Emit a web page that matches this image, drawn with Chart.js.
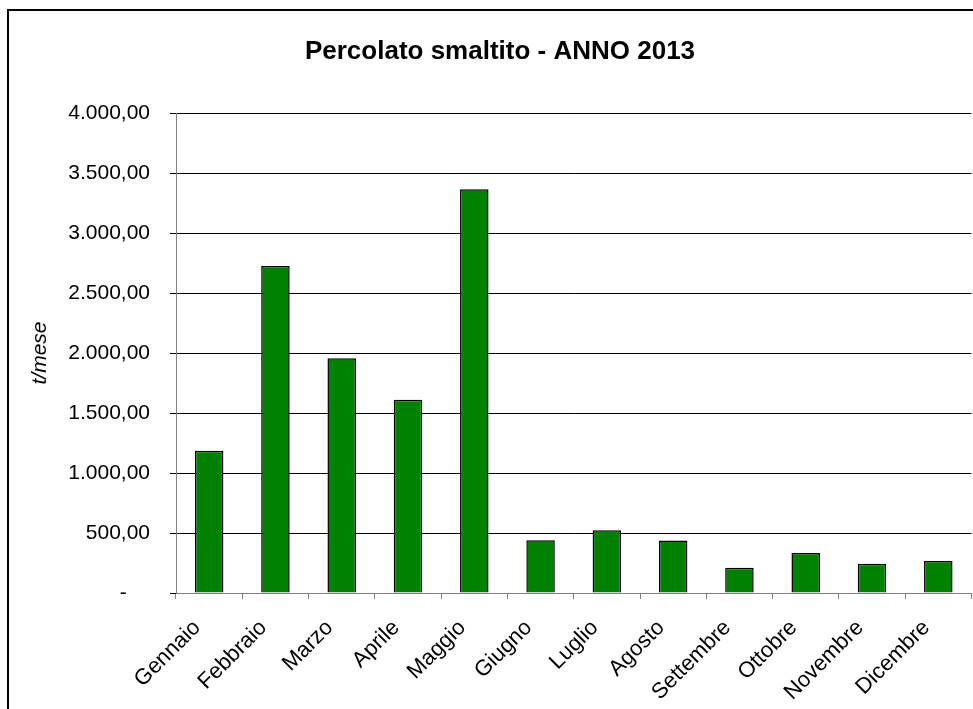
<!DOCTYPE html>
<html>
<head>
<meta charset="utf-8">
<script src="https://cdn.jsdelivr.net/npm/chart.js@4/dist/chart.umd.min.js"></script>
<style>
  html, body { margin: 0; padding: 0; background: #fff; overflow: hidden; }
  #wrap { position: relative; width: 973px; height: 709px; }
</style>
</head>
<body>
<div id="wrap"><canvas id="c" width="973" height="709"></canvas></div>
<script>
// Monthly leachate disposed, 2013 (t/mese)
const months = ['Gennaio', 'Febbraio', 'Marzo', 'Aprile', 'Maggio', 'Giugno',
                'Luglio', 'Agosto', 'Settembre', 'Ottobre', 'Novembre', 'Dicembre'];
const tonnesPerMonth = [1186, 2725, 1956, 1611, 3364, 439, 522, 437, 211, 333, 244, 267];
const yTicks = [0, 500, 1000, 1500, 2000, 2500, 3000, 3500, 4000];

const FONT = "'Liberation Sans', Arial, sans-serif";

// Italian number format with two decimals; zero shown as a dash
function fmtIt(v) {
  if (v === 0) return '-    ';
  const parts = v.toFixed(2).split('.');
  const intPart = parts[0].replace(/\B(?=(\d{3})+(?!\d))/g, '.');
  return intPart + ',' + parts[1];
}

// Outer frame of the chart object
const framePlugin = {
  id: 'frame',
  afterDraw(chart) {
    const ctx = chart.ctx;
    ctx.save();
    ctx.strokeStyle = '#000';
    ctx.lineWidth = 2;
    ctx.strokeRect(8, 10, 2000, 2000);
    ctx.restore();
  }
};

new Chart(document.getElementById('c'), {
  type: 'bar',
  data: {
    labels: months,
    datasets: [{
      data: tonnesPerMonth,
      backgroundColor: '#008000',
      borderColor: '#000',
      borderWidth: 1.5,
      barPercentage: 0.43,
      categoryPercentage: 1.0
    }]
  },
  options: {
    responsive: false,
    animation: false,
    layout: { padding: { left: 28, right: 1, top: 10, bottom: 0 } },
    plugins: {
      legend: { display: false },
      tooltip: { enabled: false },
      title: {
        display: true,
        text: 'Percolato smaltito - ANNO 2013',
        color: '#000',
        font: { family: FONT, size: 26, weight: 'bold', lineHeight: 1.2 },
        padding: { top: 26, bottom: 45.8 }
      }
    },
    scales: {
      x: {
        grid: {
          offset: true,
          drawOnChartArea: false,
          drawTicks: true,
          tickLength: 6,
          color: '#808080'
        },
        border: { color: '#808080', width: 1 },
        ticks: {
          color: '#000',
          font: { family: FONT, size: 22 },
          maxRotation: 45,
          minRotation: 45,
          padding: 16,
          labelOffset: -12,
          autoSkip: false
        },
        afterFit(scale) { scale.height = 116; }
      },
      y: {
        min: 0,
        max: 4000,
        afterBuildTicks(scale) { scale.ticks = yTicks.map(v => ({ value: v })); },
        grid: {
          color: '#000',
          lineWidth: 1,
          drawTicks: true,
          tickLength: 6
        },
        border: { color: '#808080', width: 1 },
        ticks: {
          color: '#000',
          font: { family: FONT, size: 21 },
          padding: 20,
          callback: (v) => fmtIt(v)
        },
        title: {
          display: true,
          text: 't/mese',
          color: '#000',
          font: { family: FONT, size: 21, style: 'italic', lineHeight: 1.2 },
          padding: 0
        },
        afterFit(scale) { scale.width = 148; }
      }
    }
  },
  plugins: [framePlugin]
});
</script>
</body>
</html>
